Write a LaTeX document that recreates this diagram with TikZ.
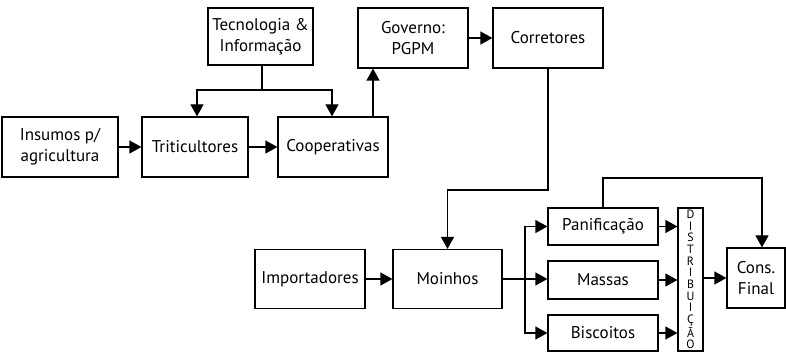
\documentclass[tikz,border=0pt]{standalone}
\usepackage{fontspec}
\setmainfont{PT Sans}
\usetikzlibrary{arrows.meta}
\begin{document}
\begin{tikzpicture}[x=1pt,y=-1pt,
  box/.style={draw,line width=1.2pt,rectangle,inner sep=1pt,align=center,
    font=\fontsize{17}{20.5}\selectfont},
  arr/.style={line width=1.2pt,-{Triangle[length=12pt,width=13pt]}},
  ln/.style={line width=1.2pt}]
\useasboundingbox (0,0) rectangle (786,352);
\node[box,minimum width=105,minimum height=57] (tec) at (260.5,36.5) {Tecnologia \&\\Informação};
\node[box,minimum width=110,minimum height=60] (gov) at (413,38) {Governo:\\PGPM};
\node[box,minimum width=110,minimum height=60] (cor) at (548,38) {Corretores};
\node[box,minimum width=116,minimum height=60] (ins) at (60,147) {Insumos p/\\agricultura};
\node[box,minimum width=106,minimum height=60] (tri) at (195,147) {Triticultores};
\node[box,minimum width=110,minimum height=60] (coo) at (333,147) {Cooperativas};
\node[box,minimum width=110,minimum height=59] (imp) at (310,279) {Importadores};
\node[box,minimum width=109,minimum height=59] (moi) at (447.5,279) {Moinhos};
\node[box,minimum width=110,minimum height=37] (pan) at (603,226.5) {Panificação};
\node[box,minimum width=110,minimum height=38] (mas) at (603,280) {Massas};
\node[box,minimum width=110,minimum height=36] (bis) at (603,333) {Biscoitos};
\node[box,minimum width=25,minimum height=143,inner sep=0pt,
  font=\fontsize{12}{11.7}\selectfont] (dis) at (690.5,279.5)
  {D\\I\\S\\T\\R\\I\\B\\U\\I\\Ç\\Ã\\O};
\node[box,minimum width=58,minimum height=60] (cons) at (756,278) {Cons.\\Final};
\coordinate (j1) at (262,90);
\coordinate (j2) at (548,190);
\coordinate (split) at (525,279);
\coordinate (ptop) at (603,178);
\draw[arr] (ins) -- (tri);
\draw[arr] (tri) -- (coo);
\draw[ln] (tec.south -| j1) -- (j1);
\draw[arr] (j1) -| ([xshift=2]tri.north);
\draw[arr] (j1) -| ([xshift=-1]coo.north);
\draw[arr] ([xshift=40]coo.north) -- ([xshift=40]coo.north |- gov.south);
\draw[arr] (gov) -- (cor);
\draw[arr] (cor.south) -- (j2) -| (moi.north);
\draw[arr] (imp) -- (moi);
\draw[ln] (moi.east) -- (split);
\draw[arr] (split) |- (pan.west);
\draw[arr] (split) -- (mas.west |- split);
\draw[arr] (split) |- (bis.west);
\draw[arr] (pan.east) -- (pan.east -| dis.west);
\draw[arr] (mas.east) -- (mas.east -| dis.west);
\draw[arr] (bis.east) -- (bis.east -| dis.west);
\draw[arr] (dis.east |- cons.west) -- (cons.west);
\draw[arr] (pan.north) -- (ptop) -| ([xshift=6]cons.north);
\end{tikzpicture}
\end{document}
